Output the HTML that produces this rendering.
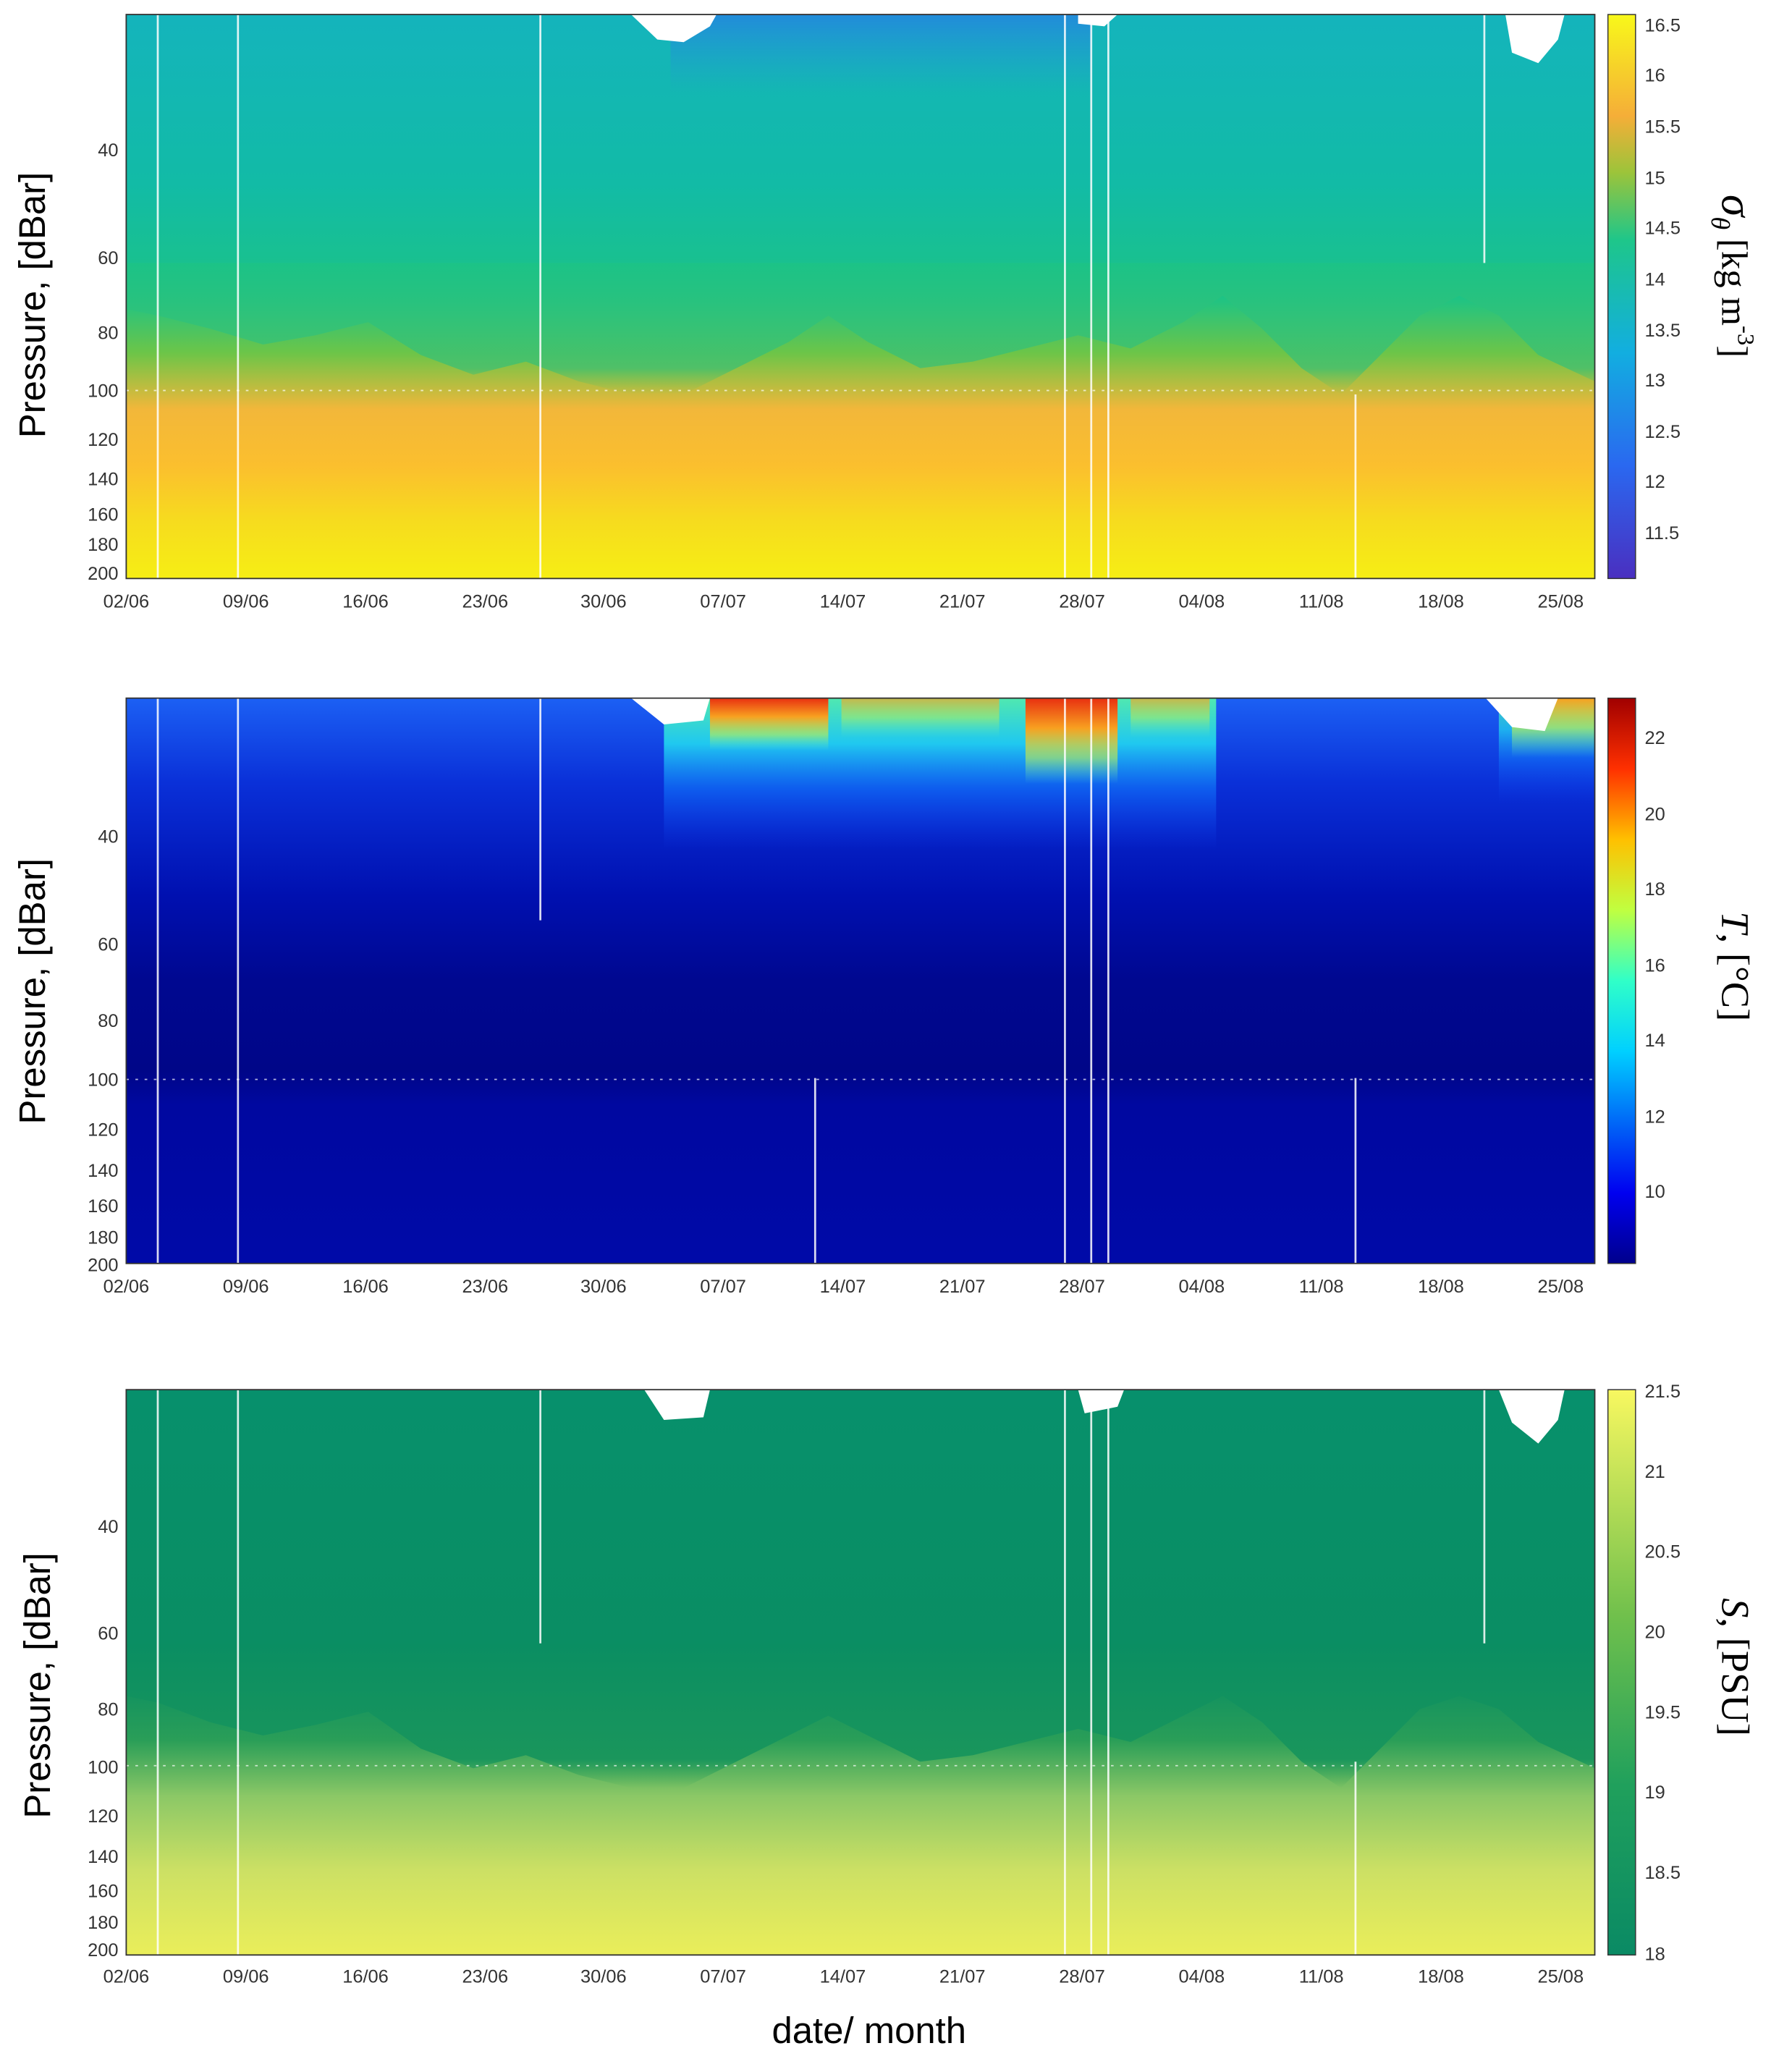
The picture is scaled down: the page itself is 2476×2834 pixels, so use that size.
<!DOCTYPE html>
<html><head><meta charset="utf-8"><style>html,body{margin:0;padding:0;background:#fff}svg{display:block}</style></head><body>
<svg width="2476" height="2834" viewBox="0 0 1363 1560" xmlns="http://www.w3.org/2000/svg" font-family="Liberation Sans, sans-serif">
<defs>
<linearGradient id="g1" x1="0" y1="0" x2="0" y2="1">
<stop offset="0" stop-color="#14b4bc"/><stop offset="0.3" stop-color="#12bba6"/><stop offset="0.5" stop-color="#1cc386"/><stop offset="0.6" stop-color="#6cc548"/><stop offset="0.7" stop-color="#f2b73a"/><stop offset="0.8" stop-color="#fbbf2e"/><stop offset="0.9" stop-color="#f6dc1e"/><stop offset="1" stop-color="#f6ee14"/></linearGradient>
<linearGradient id="gr1" x1="0" y1="0" x2="0" y2="1">
<stop offset="0" stop-color="#1cc386" stop-opacity="0.9"/><stop offset="0.8" stop-color="#40c070" stop-opacity="0.8"/><stop offset="1" stop-color="#80c050" stop-opacity="0"/></linearGradient>
<linearGradient id="b1" x1="0" y1="0" x2="0" y2="1">
<stop offset="0" stop-color="#2a70ee" stop-opacity="0.6"/><stop offset="1" stop-color="#2a90e0" stop-opacity="0"/></linearGradient>
<linearGradient id="c1" x1="0" y1="1" x2="0" y2="0">
<stop offset="0" stop-color="#4a2fc0"/><stop offset="0.2" stop-color="#2a68f0"/><stop offset="0.4" stop-color="#12aee0"/><stop offset="0.6" stop-color="#1ec68a"/><stop offset="0.72" stop-color="#9cc43a"/><stop offset="0.82" stop-color="#f5ae38"/><stop offset="1" stop-color="#f8f81a"/></linearGradient>
<linearGradient id="g2" x1="0" y1="0" x2="0" y2="1">
<stop offset="0" stop-color="#1c60f4"/><stop offset="0.15" stop-color="#0a30d8"/><stop offset="0.35" stop-color="#0010b0"/><stop offset="0.5" stop-color="#000890"/><stop offset="0.66" stop-color="#000688"/><stop offset="0.72" stop-color="#0008a0"/><stop offset="1" stop-color="#000aa8"/></linearGradient>
<linearGradient id="w2" x1="0" y1="0" x2="0" y2="1">
<stop offset="0" stop-color="#50e8b0"/><stop offset="0.3" stop-color="#20c8f0"/><stop offset="0.6" stop-color="#1070f8" stop-opacity="0.7"/><stop offset="1" stop-color="#1040f0" stop-opacity="0"/></linearGradient>
<linearGradient id="hot" x1="0" y1="0" x2="0" y2="1">
<stop offset="0" stop-color="#e83010"/><stop offset="0.35" stop-color="#f8a020"/><stop offset="0.7" stop-color="#c0f050" stop-opacity="0.6"/><stop offset="1" stop-color="#60f0c0" stop-opacity="0"/></linearGradient>
<linearGradient id="warm" x1="0" y1="0" x2="0" y2="1">
<stop offset="0" stop-color="#f8a020"/><stop offset="0.5" stop-color="#c0f050" stop-opacity="0.7"/><stop offset="1" stop-color="#60f0c0" stop-opacity="0"/></linearGradient>
<linearGradient id="c2" x1="0" y1="1" x2="0" y2="0">
<stop offset="0" stop-color="#00008c"/><stop offset="0.125" stop-color="#0000f0"/><stop offset="0.375" stop-color="#00d0ff"/><stop offset="0.5" stop-color="#30ffc8"/><stop offset="0.625" stop-color="#c0ff40"/><stop offset="0.75" stop-color="#ffc000"/><stop offset="0.875" stop-color="#ff3000"/><stop offset="1" stop-color="#a00000"/></linearGradient>
<linearGradient id="g3" x1="0" y1="0" x2="0" y2="1">
<stop offset="0" stop-color="#07906c"/><stop offset="0.5" stop-color="#0a8e62"/><stop offset="0.62" stop-color="#2a9e58"/><stop offset="0.72" stop-color="#8cc866"/><stop offset="0.85" stop-color="#cce064"/><stop offset="1" stop-color="#eaee5a"/></linearGradient>
<linearGradient id="gr3" x1="0" y1="0" x2="0" y2="1">
<stop offset="0" stop-color="#0a8e62"/><stop offset="0.8" stop-color="#1a965c"/><stop offset="1" stop-color="#40a858" stop-opacity="0"/></linearGradient>
<linearGradient id="c3" x1="0" y1="1" x2="0" y2="0">
<stop offset="0" stop-color="#0a8a64"/><stop offset="0.3" stop-color="#20a05c"/><stop offset="0.6" stop-color="#70c04c"/><stop offset="1" stop-color="#f8f860"/></linearGradient>
</defs>

<!-- Panel 1 -->
<g>
<rect x="96" y="11" width="1117" height="429" fill="url(#g1)"/>
<path d="M96 200 L96 235 L120 240 L160 250 L200 262 L240 255 L280 245 L320 270 L360 285 L400 275 L440 290 L480 300 L520 300 L560 280 L600 260 L630 240 L660 260 L700 280 L740 275 L780 265 L820 255 L860 265 L900 245 L930 225 L960 250 L990 280 L1020 300 L1050 270 L1080 240 L1110 225 L1140 240 L1170 270 L1213 290 L1213 200 Z" fill="url(#gr1)"/>
<rect x="510" y="11" width="320" height="60" fill="url(#b1)"/>
<path d="M480 11 L500 30 L520 32 L540 20 L545 11Z M820 11 L820 18 L840 20 L850 11Z M1145 11 L1150 40 L1170 48 L1185 30 L1190 11Z" fill="#fff"/>
<g stroke="#fff" stroke-width="1.5" opacity="0.85">
<line x1="120" y1="11" x2="120" y2="440"/><line x1="181" y1="11" x2="181" y2="440"/><line x1="411" y1="11" x2="411" y2="440"/><line x1="810" y1="11" x2="810" y2="440"/><line x1="830" y1="11" x2="830" y2="440"/><line x1="843" y1="11" x2="843" y2="440"/><line x1="1031" y1="300" x2="1031" y2="440"/><line x1="1129" y1="11" x2="1129" y2="200"/>
</g>
<line x1="96" y1="297" x2="1213" y2="297" stroke="#fff" stroke-width="1" stroke-dasharray="2,5" opacity="0.7"/>
<rect x="96" y="11" width="1117" height="429" fill="none" stroke="#333" stroke-width="1"/>
<rect x="1223" y="11" width="21" height="429" fill="url(#c1)" stroke="#333" stroke-width="0.8"/>
<g font-size="14" fill="#333" text-anchor="end">
<text x="90" y="119">40</text><text x="90" y="201">60</text><text x="90" y="258">80</text><text x="90" y="302">100</text><text x="90" y="339">120</text><text x="90" y="369">140</text><text x="90" y="396">160</text><text x="90" y="419">180</text><text x="90" y="441">200</text>
</g>
<g font-size="14" fill="#333" text-anchor="middle">
<text x="96" y="462">02/06</text><text x="187" y="462">09/06</text><text x="278" y="462">16/06</text><text x="369" y="462">23/06</text><text x="459" y="462">30/06</text><text x="550" y="462">07/07</text><text x="641" y="462">14/07</text><text x="732" y="462">21/07</text><text x="823" y="462">28/07</text><text x="914" y="462">04/08</text><text x="1005" y="462">11/08</text><text x="1096" y="462">18/08</text><text x="1187" y="462">25/08</text>
</g>
<g font-size="14" fill="#333">
<text x="1251" y="24">16.5</text><text x="1251" y="62">16</text><text x="1251" y="101">15.5</text><text x="1251" y="140">15</text><text x="1251" y="178">14.5</text><text x="1251" y="217">14</text><text x="1251" y="256">13.5</text><text x="1251" y="294">13</text><text x="1251" y="333">12.5</text><text x="1251" y="371">12</text><text x="1251" y="410">11.5</text>
</g>
<text transform="translate(34,232) rotate(-90)" font-size="28" fill="#000" text-anchor="middle">Pressure, [dBar]</text>
<text transform="translate(1310,210) rotate(90)" font-family="Liberation Serif, serif" font-size="28" fill="#000" text-anchor="middle"><tspan font-style="italic" font-size="34">σ</tspan><tspan font-style="italic" font-size="20" dy="8">θ</tspan><tspan dy="-8"> [kg m</tspan><tspan font-size="18" dy="-12">-3</tspan><tspan dy="12">]</tspan></text>
</g>

<!-- Panel 2 -->
<g>
<rect x="96" y="531" width="1117" height="430" fill="url(#g2)"/>
<rect x="505" y="531" width="420" height="115" fill="url(#w2)"/>
<rect x="1140" y="531" width="73" height="80" fill="url(#w2)" opacity="0.8"/>
<rect x="540" y="531" width="90" height="40" fill="url(#hot)"/>
<rect x="640" y="531" width="120" height="30" fill="url(#warm)" opacity="0.7"/>
<rect x="780" y="531" width="70" height="65" fill="url(#hot)"/>
<rect x="860" y="531" width="60" height="30" fill="url(#warm)" opacity="0.7"/>
<rect x="1150" y="531" width="63" height="45" fill="url(#warm)"/>
<path d="M480 531 L505 551 L535 548 L540 531Z M1130 531 L1150 553 L1175 556 L1185 531Z" fill="#fff"/>
<g stroke="#fff" stroke-width="1.5" opacity="0.85">
<line x1="120" y1="531" x2="120" y2="961"/><line x1="181" y1="531" x2="181" y2="961"/><line x1="411" y1="531" x2="411" y2="700"/><line x1="810" y1="531" x2="810" y2="961"/><line x1="830" y1="531" x2="830" y2="961"/><line x1="843" y1="531" x2="843" y2="961"/><line x1="1031" y1="820" x2="1031" y2="961"/><line x1="620" y1="820" x2="620" y2="961"/>
</g>
<line x1="96" y1="821" x2="1213" y2="821" stroke="#fff" stroke-width="1" stroke-dasharray="2,5" opacity="0.7"/>
<rect x="96" y="531" width="1117" height="430" fill="none" stroke="#333" stroke-width="1"/>
<rect x="1223" y="531" width="21" height="430" fill="url(#c2)" stroke="#333" stroke-width="0.8"/>
<g font-size="14" fill="#333" text-anchor="end">
<text x="90" y="641">40</text><text x="90" y="723">60</text><text x="90" y="781">80</text><text x="90" y="826">100</text><text x="90" y="864">120</text><text x="90" y="895">140</text><text x="90" y="922">160</text><text x="90" y="946">180</text><text x="90" y="967">200</text>
</g>
<g font-size="14" fill="#333" text-anchor="middle">
<text x="96" y="983">02/06</text><text x="187" y="983">09/06</text><text x="278" y="983">16/06</text><text x="369" y="983">23/06</text><text x="459" y="983">30/06</text><text x="550" y="983">07/07</text><text x="641" y="983">14/07</text><text x="732" y="983">21/07</text><text x="823" y="983">28/07</text><text x="914" y="983">04/08</text><text x="1005" y="983">11/08</text><text x="1096" y="983">18/08</text><text x="1187" y="983">25/08</text>
</g>
<g font-size="14" fill="#333">
<text x="1251" y="566">22</text><text x="1251" y="624">20</text><text x="1251" y="681">18</text><text x="1251" y="739">16</text><text x="1251" y="796">14</text><text x="1251" y="854">12</text><text x="1251" y="911">10</text>
</g>
<text transform="translate(34,754) rotate(-90)" font-size="28" fill="#000" text-anchor="middle">Pressure, [dBar]</text>
<text transform="translate(1310,735) rotate(90)" font-family="Liberation Serif, serif" font-size="30" fill="#000" text-anchor="middle"><tspan font-style="italic">T</tspan>, [°C]</text>
</g>

<!-- Panel 3 -->
<g>
<rect x="96" y="1057" width="1117" height="430" fill="url(#g3)"/>
<path d="M96 1250 L96 1290 L120 1295 L160 1310 L200 1320 L240 1312 L280 1302 L320 1330 L360 1345 L400 1335 L440 1350 L480 1360 L520 1360 L560 1340 L600 1320 L630 1305 L660 1320 L700 1340 L740 1335 L780 1325 L820 1315 L860 1325 L900 1305 L930 1290 L960 1310 L990 1340 L1020 1360 L1050 1330 L1080 1300 L1110 1290 L1140 1300 L1170 1325 L1213 1345 L1213 1250 Z" fill="url(#gr3)"/>
<path d="M490 1057 L505 1080 L535 1078 L540 1057Z M1140 1057 L1150 1082 L1170 1098 L1185 1080 L1190 1057Z M820 1057 L825 1075 L850 1070 L855 1057Z" fill="#fff"/>
<g stroke="#fff" stroke-width="1.5" opacity="0.85">
<line x1="120" y1="1057" x2="120" y2="1487"/><line x1="181" y1="1057" x2="181" y2="1487"/><line x1="411" y1="1057" x2="411" y2="1250"/><line x1="810" y1="1057" x2="810" y2="1487"/><line x1="830" y1="1057" x2="830" y2="1487"/><line x1="843" y1="1057" x2="843" y2="1487"/><line x1="1031" y1="1340" x2="1031" y2="1487"/><line x1="1129" y1="1057" x2="1129" y2="1250"/>
</g>
<line x1="96" y1="1343" x2="1213" y2="1343" stroke="#fff" stroke-width="1" stroke-dasharray="2,5" opacity="0.7"/>
<rect x="96" y="1057" width="1117" height="430" fill="none" stroke="#333" stroke-width="1"/>
<rect x="1223" y="1057" width="21" height="430" fill="url(#c3)" stroke="#333" stroke-width="0.8"/>
<g font-size="14" fill="#333" text-anchor="end">
<text x="90" y="1166">40</text><text x="90" y="1247">60</text><text x="90" y="1305">80</text><text x="90" y="1349">100</text><text x="90" y="1386">120</text><text x="90" y="1417">140</text><text x="90" y="1443">160</text><text x="90" y="1467">180</text><text x="90" y="1488">200</text>
</g>
<g font-size="14" fill="#333" text-anchor="middle">
<text x="96" y="1508">02/06</text><text x="187" y="1508">09/06</text><text x="278" y="1508">16/06</text><text x="369" y="1508">23/06</text><text x="459" y="1508">30/06</text><text x="550" y="1508">07/07</text><text x="641" y="1508">14/07</text><text x="732" y="1508">21/07</text><text x="823" y="1508">28/07</text><text x="914" y="1508">04/08</text><text x="1005" y="1508">11/08</text><text x="1096" y="1508">18/08</text><text x="1187" y="1508">25/08</text>
</g>
<g font-size="14" fill="#333">
<text x="1251" y="1063">21.5</text><text x="1251" y="1124">21</text><text x="1251" y="1185">20.5</text><text x="1251" y="1246">20</text><text x="1251" y="1307">19.5</text><text x="1251" y="1368">19</text><text x="1251" y="1429">18.5</text><text x="1251" y="1491">18</text>
</g>
<text transform="translate(38,1282) rotate(-90)" font-size="28" fill="#000" text-anchor="middle">Pressure, [dBar]</text>
<text transform="translate(1310,1268) rotate(90)" font-family="Liberation Serif, serif" font-size="30" fill="#000" text-anchor="middle"><tspan font-style="italic">S</tspan>, [PSU]</text>
</g>

<text x="661" y="1554" font-size="28" fill="#000" text-anchor="middle">date/ month</text>
</svg>
</body></html>
